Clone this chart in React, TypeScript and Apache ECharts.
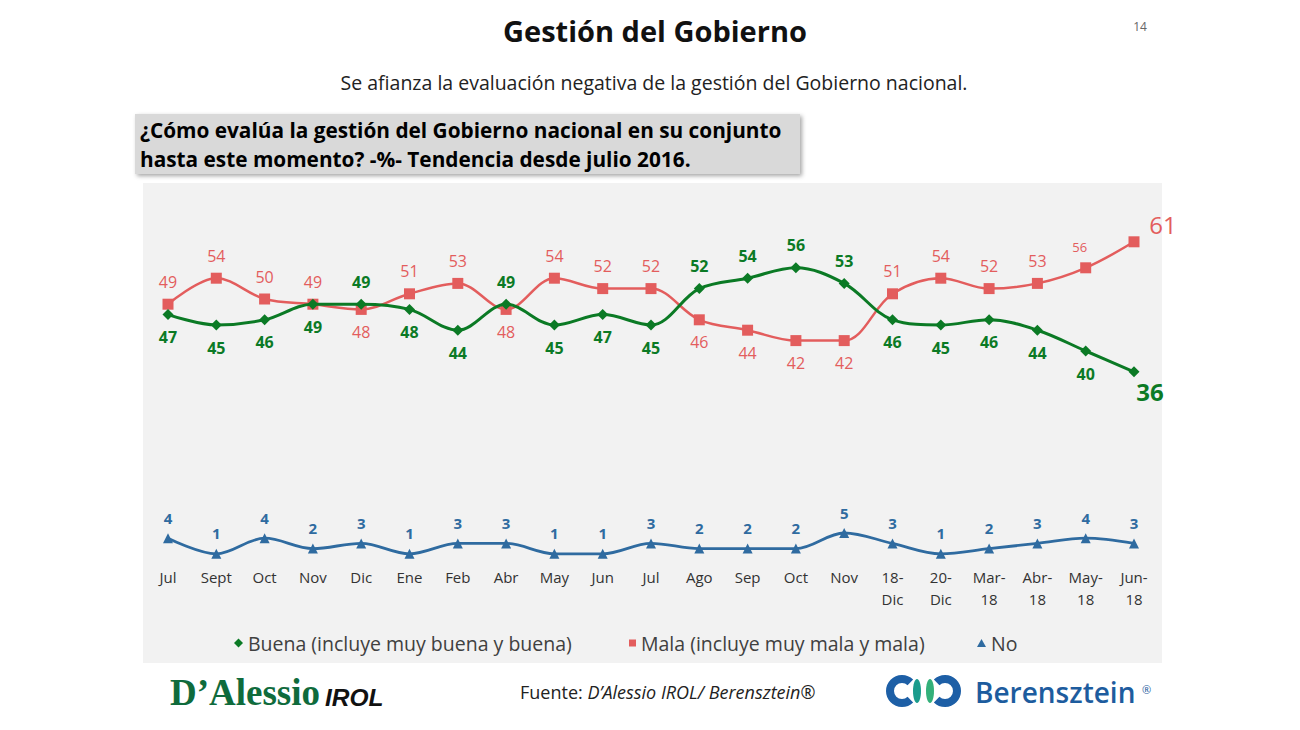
import React, { useEffect, useRef } from "react";
import * as echarts from "echarts";

const categories = [
  "Jul", "Sept", "Oct", "Nov", "Dic", "Ene", "Feb", "Abr", "May", "Jun", "Jul",
  "Ago", "Sep", "Oct", "Nov", "18-\nDic", "20-\nDic", "Mar-\n18", "Abr-\n18", "May-\n18", "Jun-\n18",
];
const buena = [47, 45, 46, 49, 49, 48, 44, 49, 45, 47, 45, 52, 54, 56, 53, 46, 45, 46, 44, 40, 36];
const mala = [49, 54, 50, 49, 48, 51, 53, 48, 54, 52, 52, 46, 44, 42, 42, 51, 54, 52, 53, 56, 61];
const no = [4, 1, 4, 2, 3, 1, 3, 3, 1, 1, 3, 2, 2, 2, 5, 3, 1, 2, 3, 4, 3];

const seriesNames = [
  "Buena (incluye muy buena y buena)",
  "Mala (incluye muy mala y mala)",
  "No",
];

const GREEN = "#0b7a25";
const RED = "#e35d5d";
const BLUE = "#2f6ba0";
const FONT = "'Open Sans', Lato, sans-serif";

export default function App() {
  const ref = useRef<HTMLDivElement>(null);

  useEffect(() => {
    if (!ref.current) return;
    const chart = echarts.init(ref.current, undefined, { renderer: "svg" });
    const n = categories.length;

    const buenaData = buena.map((v, i) => {
      const above = v > mala[i];
      const last = i === n - 1;
      return {
        value: v,
        label: {
          position: above ? "top" : "bottom",
          fontSize: last ? 24 : 16,
          offset: last ? [16, -2] : [0, 0],
          distance: last ? 4 : 9,
        },
      };
    });
    const malaData = mala.map((v, i) => {
      const above = v >= buena[i];
      const last = i === n - 1;
      const prev = i === n - 2;
      return {
        value: v,
        label: {
          position: above ? "top" : "bottom",
          fontSize: last ? 24 : prev ? 13 : 16,
          offset: last ? [29, 4] : prev ? [-6, 0] : [0, 0],
          distance: last ? 4 : 9,
        },
      };
    });

    const legendText = { fontSize: 19.5, color: "#404040", fontFamily: FONT };

    const option: any = {
      animation: false,
      textStyle: { fontFamily: FONT },
      graphic: [
        { type: "rect", z: -10, shape: { x: 143, y: 183, width: 1019, height: 480 }, style: { fill: "#f2f2f2" } },
        {
          type: "text", x: 655, y: 30,
          style: { text: "Gestión del Gobierno", font: "bold 29px 'Open Sans', sans-serif", fill: "#111", align: "center", verticalAlign: "middle" },
        },
        {
          type: "text", x: 1140, y: 26,
          style: { text: "14", font: "12px 'Open Sans', sans-serif", fill: "#666", align: "center", verticalAlign: "middle" },
        },
        {
          type: "text", x: 654, y: 82,
          style: { text: "Se afianza la evaluación negativa de la gestión del Gobierno nacional.", font: "19.5px 'Open Sans', sans-serif", fill: "#222", align: "center", verticalAlign: "middle" },
        },
        {
          type: "rect", shape: { x: 135, y: 114, width: 665, height: 60 },
          style: { fill: "#d9d9d9", shadowBlur: 4, shadowOffsetX: 2, shadowOffsetY: 2, shadowColor: "rgba(0,0,0,0.35)" },
        },
        {
          type: "text", x: 140, y: 130,
          style: { text: "¿Cómo evalúa la gestión del Gobierno nacional en su conjunto", font: "bold 20.8px 'Open Sans', sans-serif", fill: "#000", verticalAlign: "middle" },
        },
        {
          type: "text", x: 140, y: 159,
          style: { text: "hasta este momento? -%- Tendencia desde julio 2016.", font: "bold 20.8px 'Open Sans', sans-serif", fill: "#000", verticalAlign: "middle" },
        },
        {
          type: "text", x: 170, y: 692,
          style: { text: "D’Alessio", font: "bold 37px 'Liberation Serif', serif", fill: "#0f6b3c", verticalAlign: "middle" },
        },
        {
          type: "text", x: 325, y: 697,
          style: { text: "IROL", font: "italic bold 24.5px 'Liberation Sans', sans-serif", fill: "#111", verticalAlign: "middle" },
        },
        {
          type: "text", x: 520, y: 692,
          style: {
            text: "{a|Fuente: }{b|D’Alessio IROL/ Berensztein®}",
            verticalAlign: "middle",
            rich: {
              a: { fontSize: 18, fontFamily: FONT, fill: "#222" },
              b: { fontSize: 18, fontFamily: FONT, fontStyle: "italic", fill: "#222" },
            },
          },
        },
        {
          type: "arc", shape: { cx: 902, cy: 691, r: 12, startAngle: 0.8, endAngle: Math.PI * 2 - 0.8, clockwise: true },
          style: { stroke: "#1d5fa6", lineWidth: 8, fill: null },
        },
        {
          type: "arc", shape: { cx: 945, cy: 691, r: 12, startAngle: Math.PI + 0.8, endAngle: Math.PI * 3 - 0.8, clockwise: true },
          style: { stroke: "#1d5fa6", lineWidth: 8, fill: null },
        },
        { type: "ellipse", shape: { cx: 917, cy: 691, rx: 4, ry: 12 }, style: { fill: "#1b9c8c" } },
        { type: "ellipse", shape: { cx: 930, cy: 691, rx: 4, ry: 12 }, style: { fill: "#33b07a" } },
        {
          type: "text", x: 975, y: 692,
          style: { text: "Berensztein", font: "600 28px 'Open Sans', sans-serif", fill: "#1d5c9e", verticalAlign: "middle" },
        },
        {
          type: "text", x: 1142, y: 689,
          style: { text: "®", font: "11px 'Open Sans', sans-serif", fill: "#1d5c9e", verticalAlign: "middle" },
        },
      ],
      legend: [
        {
          data: [seriesNames[0]], left: 234, top: 633, padding: 0, icon: "diamond",
          itemWidth: 9, itemHeight: 9, itemGap: 5, textStyle: legendText,
        },
        {
          data: [seriesNames[1]], left: 629, top: 633, padding: 0, icon: "rect",
          itemWidth: 7, itemHeight: 7, itemGap: 5, textStyle: legendText,
        },
        {
          data: [seriesNames[2]], left: 977, top: 633, padding: 0, icon: "triangle",
          itemWidth: 9, itemHeight: 8, itemGap: 5, textStyle: legendText,
        },
      ],
      grid: { left: 168, width: 966, top: 195, height: 364 },
      xAxis: {
        type: "category",
        data: categories,
        boundaryGap: false,
        axisLine: { show: false },
        axisTick: { show: false },
        axisLabel: { interval: 0, fontSize: 15, color: "#333", margin: 7, lineHeight: 22, fontFamily: FONT },
      },
      yAxis: { type: "value", min: 0, max: 70, show: false },
      series: [
        {
          name: seriesNames[0], type: "line", data: buenaData, smooth: 0.35,
          color: GREEN, symbol: "diamond", symbolSize: 11,
          lineStyle: { width: 3, color: GREEN }, itemStyle: { color: GREEN },
          label: { show: true, color: GREEN, fontWeight: "bold", fontFamily: FONT },
          z: 3,
        },
        {
          name: seriesNames[1], type: "line", data: malaData, smooth: 0.35,
          color: RED, symbol: "rect", symbolSize: 11,
          lineStyle: { width: 2.5, color: RED }, itemStyle: { color: RED },
          label: { show: true, color: RED, fontWeight: "normal", fontFamily: FONT },
          z: 2,
        },
        {
          name: seriesNames[2], type: "line", data: no, smooth: 0.35,
          color: BLUE, symbol: "triangle", symbolSize: 10,
          lineStyle: { width: 2.8, color: BLUE }, itemStyle: { color: BLUE },
          label: { show: true, position: "top", distance: 8, color: BLUE, fontWeight: "bold", fontSize: 15, fontFamily: FONT },
        },
      ],
    };
    chart.setOption(option);
    return () => chart.dispose();
  }, []);

  return (
    <div
      ref={ref}
      style={{ position: "fixed", left: 0, top: 0, width: 1300, height: 730, background: "#fff" }}
    />
  );
}
